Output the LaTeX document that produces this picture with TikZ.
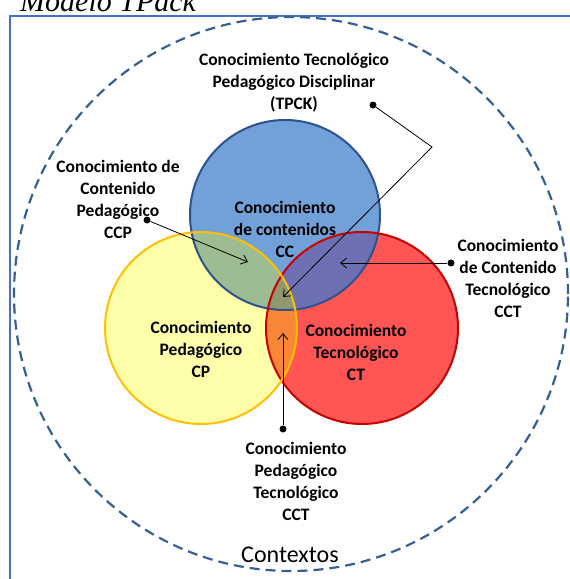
\documentclass[tikz,border=0pt]{standalone}
\usepackage{fontspec}
\setmainfont{Carlito}
\newfontfamily\titlefont{Liberation Serif}
\usetikzlibrary{arrows.meta}

\definecolor{ccfill}{RGB}{114,160,216}
\definecolor{ccline}{RGB}{45,82,140}
\definecolor{cpfill}{RGB}{255,255,170}
\definecolor{cpline}{RGB}{255,192,0}
\definecolor{ctfill}{RGB}{255,85,85}
\definecolor{ctline}{RGB}{200,0,0}
\definecolor{ccpfill}{RGB}{158,188,148}
\definecolor{cctfill}{RGB}{110,112,180}
\definecolor{cptfill}{RGB}{250,135,55}
\definecolor{tpckfill}{RGB}{145,152,112}
\definecolor{ctxline}{RGB}{55,96,146}
\definecolor{framecol}{RGB}{68,114,196}

\begin{document}
\begin{tikzpicture}[x=1pt,y=-1pt,
  lbl/.style={font=\bfseries\fontsize{17.5}{22}\selectfont, align=center, inner sep=0pt},
  venn/.style={line width=2pt},
  dot/.style={circle, fill=black, inner sep=0pt, minimum size=7pt},
  arr/.style={-{Straight Barb[length=6pt,width=10pt]}, line width=0.8pt}
  ]
  \useasboundingbox (0,0) rectangle (570,579);
  \clip (0,0) rectangle (570,579);

  % title and frame
  \node[anchor=base west, inner sep=0pt, font=\titlefont\itshape\fontsize{30}{32}\selectfont] (title) at (20,11) {Modelo TPack};
  \draw[framecol, line width=1.5pt] (10,600) |- (600,16);

  % contexts
  \coordinate (ctx) at (291,294);
  \draw[ctxline, line width=2.2pt, dash pattern=on 10pt off 6pt] (ctx) circle (277pt);

  % circles
  \coordinate (cc) at (285,215);
  \coordinate (cp) at (201,328);
  \coordinate (ct) at (362,328);
  \fill[ccfill] (cc) circle (95pt);
  \fill[cpfill] (cp) circle (96pt);
  \fill[ctfill] (ct) circle (96pt);
  \begin{scope}
    \clip (cc) circle (95pt);
    \fill[ccpfill] (cp) circle (96pt);
    \fill[cctfill] (ct) circle (96pt);
  \end{scope}
  \begin{scope}
    \clip (cp) circle (96pt);
    \fill[cptfill] (ct) circle (96pt);
  \end{scope}
  \begin{scope}
    \clip (cc) circle (95pt);
    \clip (cp) circle (96pt);
    \fill[tpckfill] (ct) circle (96pt);
  \end{scope}
  \draw[venn, ccline] (cc) circle (95pt);
  \draw[venn, ctline] (ct) circle (96pt);
  \draw[venn, cpline] (cp) circle (96pt);

  % labels inside
  \node[lbl] (lcc) at (285,229) {Conocimiento\\de contenidos\\CC};
  \node[lbl] (lcp) at (201,349) {Conocimiento\\Pedagógico\\CP};
  \node[lbl] (lct) at (356,352) {Conocimiento\\Tecnológico\\CT};

  % labels outside
  \node[lbl] (ltpck) at (294,83) {Conocimiento Tecnológico\\Pedagógico Disciplinar\\(TPCK)};
  \node[lbl] (lccp) at (118,199) {Conocimiento de\\Contenido\\Pedagógico\\CCP};
  \node[lbl] (lcct) at (508,278) {Conocimiento\\de Contenido\\Tecnológico\\CCT};
  \node[lbl] (lcpt) at (296,481) {Conocimiento\\Pedagógico\\Tecnológico\\CCT};
  \node[font=\fontsize{24}{28}\selectfont, inner sep=0pt] (lctx) at (290,555) {Contextos};

  % dots and arrows
  \node[dot] (dtpck) at (373,105) {};
  \node[dot] (dccp) at (147,220) {};
  \node[dot] (dcct) at (451,263) {};
  \node[dot] (dcpt) at (283,429) {};
  \coordinate (bend) at (432,147);
  \coordinate (ttpck) at (283,297);
  \coordinate (tccp) at (248,262);
  \coordinate (tcct) at (340,263);
  \coordinate (tcpt) at (283,333);
  \draw[arr] (dtpck) -- (bend) -- (ttpck);
  \draw[arr] (dccp) -- (tccp);
  \draw[arr] (dcct) -- (tcct);
  \draw[arr] (dcpt) -- (tcpt);
\end{tikzpicture}
\end{document}
